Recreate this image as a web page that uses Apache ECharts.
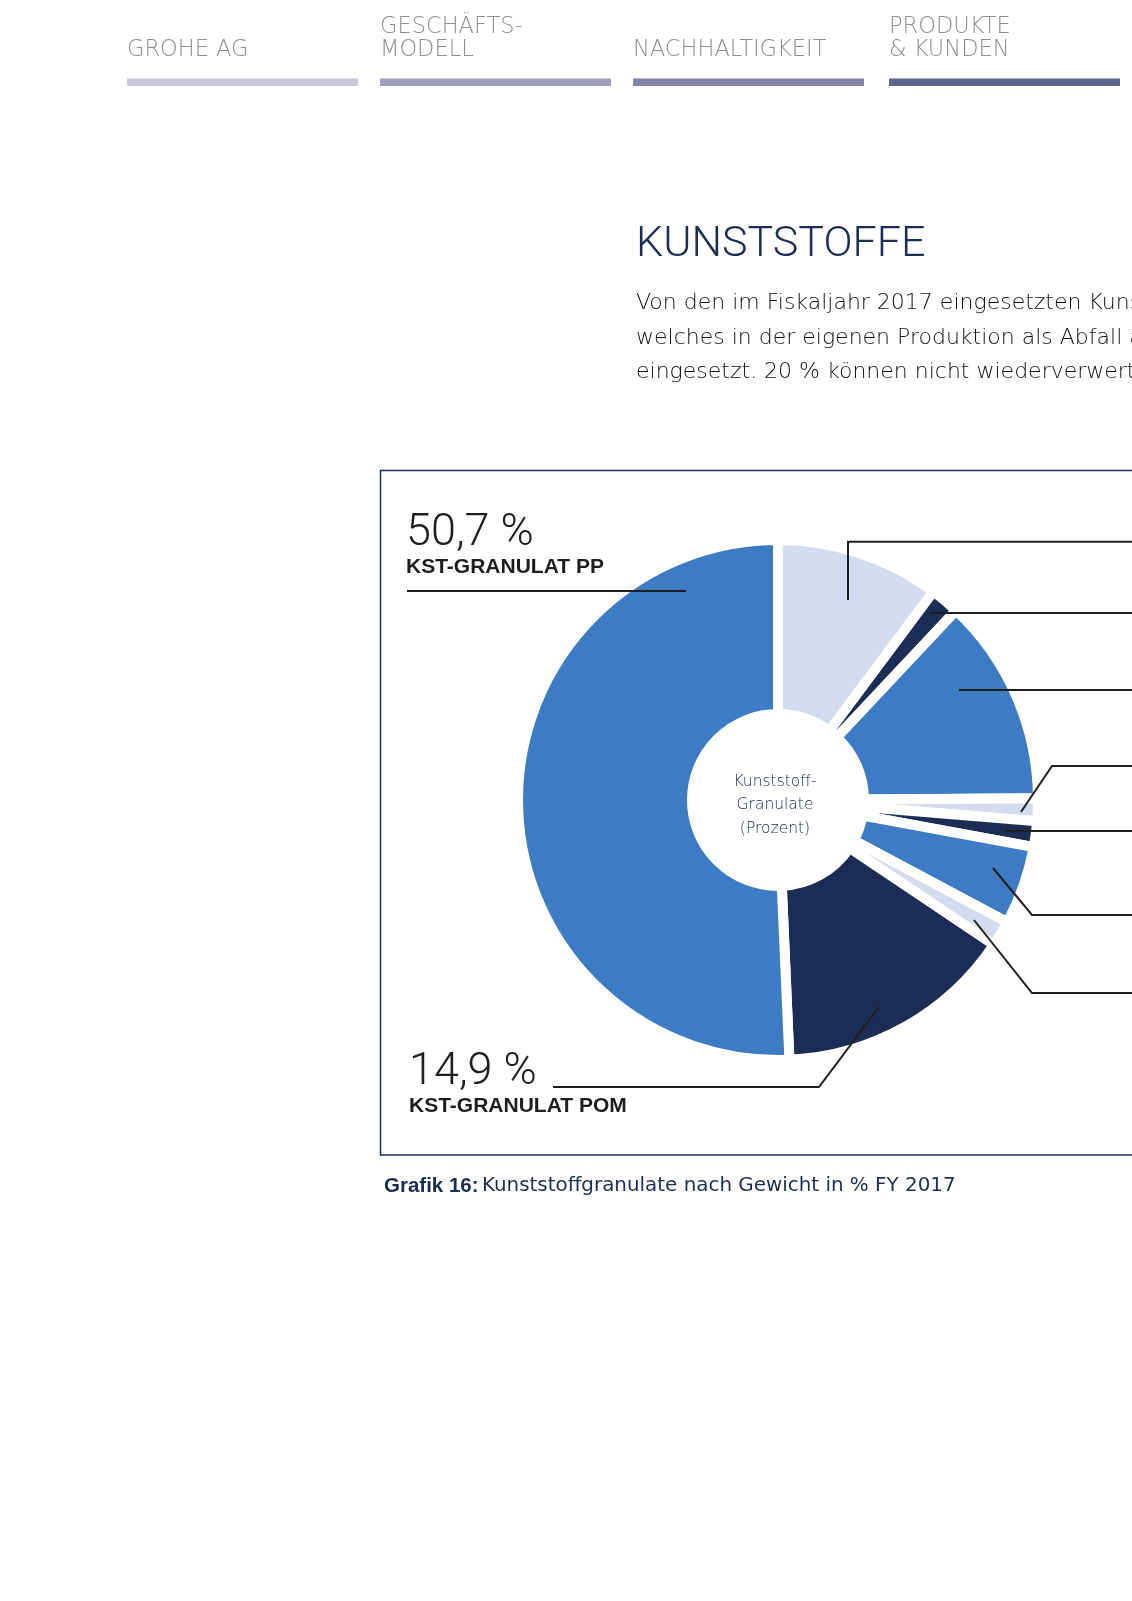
<!DOCTYPE html>
<html><head><meta charset="utf-8">
<script src="https://cdn.jsdelivr.net/npm/echarts@6/dist/echarts.min.js"></script>
<style>html,body{margin:0;padding:0;background:#fff;overflow:hidden}#c{width:1132px;height:1601px}</style>
</head><body><div id="c"></div>
<script>
// ---- data ----
const navItems = ['GROHE AG', 'GESCHÄFTS-\nMODELL', 'NACHHALTIGKEIT', 'PRODUKTE\n& KUNDEN'];
const categories = ['Granulat 1', 'Granulat 2', 'Granulat 3', 'Granulat 4', 'Granulat 5', 'Granulat 6', 'Granulat 7', 'KST-GRANULAT POM', 'KST-GRANULAT PP'];
const values = [10.2, 1.8, 12.9, 1.4, 1.6, 4.9, 1.6, 14.9, 50.7];
const shownLabels = ['KST-GRANULAT POM', 'KST-GRANULAT PP'];
const titleText = 'KUNSTSTOFFE';
const bodyLines = [
  'Von den im Fiskaljahr 2017 eingesetzten Kunststoffgranulaten',
  'welches in der eigenen Produktion als Abfall anfällt',
  'eingesetzt. 20 % können nicht wiederverwertet werden.'
];
const centerLines = ['Kunststoff-', 'Granulate', '(Prozent)'];
const captionBold = 'Grafik 16:';
const captionText = 'Kunststoffgranulate nach Gewicht in % FY 2017';

// ---- styles / layout ----
const NAVY = '#1b2d54';
const BLUE = '#3d7cc4';
const LIGHT = '#d3dcee';
const sliceColors = [LIGHT, NAVY, BLUE, LIGHT, NAVY, BLUE, LIGHT, NAVY, BLUE];
const navX = [127, 380, 633, 889];
const navBarColors = ['#cac9dc', '#9f9fbb', '#8185a6', '#5d6489'];
const FONT = 'Roboto, "Liberation Sans", sans-serif';
const FONT2 = '"DejaVu Sans", "Open Sans", sans-serif';
const FONTB = '"Liberation Sans", Arial, sans-serif';

// leader line routing (layout only)
const leaderLines = [
  [[848, 600], [848, 541.7], [1140, 541.7]],
  [[930, 613], [1000, 613], [1140, 613]],
  [[959, 690], [1040, 690], [1140, 690]],
  [[1021, 812], [1052, 766], [1140, 766]],
  [[1006, 831], [1060, 831], [1140, 831]],
  [[993, 868], [1032, 915], [1140, 915]],
  [[974, 920], [1032, 993], [1140, 993]],
  [[879, 1007], [819, 1087], [553, 1087]],
  [[686, 591], [550, 591], [407, 591]]
];
const labelPos = [
  [1200, 530], [1200, 600], [1200, 680], [1200, 750], [1200, 820],
  [1200, 900], [1200, 980], [409, 1049.5], [406, 510.5]
];

function txt(x, baseline, str, size, opts) {
  opts = opts || {};
  return {
    type: 'text', x: x, y: baseline - 0.34 * size, silent: true,
    style: {
      text: str, fill: opts.fill || '#333', font: (opts.weight || 400) + ' ' + size + 'px ' + (opts.family || FONT),
      align: opts.align || 'left', verticalAlign: 'middle'
    }
  };
}

const graphics = [];
// nav
navItems.forEach((t, i) => {
  const lines = t.split('\n');
  const o = {weight: 300, fill: '#8e8e8e', family: FONT2};
  if (lines.length === 1) {
    graphics.push(txt(navX[i], 58.3, lines[0], 22.5, o));
  } else {
    graphics.push(txt(navX[i], 35, lines[0], 22.5, o));
    graphics.push(txt(navX[i], 58.3, lines[1], 22.5, o));
  }
  graphics.push({type: 'rect', silent: true, shape: {x: navX[i], y: 78.5, width: 231, height: 7.5}, style: {fill: navBarColors[i]}});
});
// title + body
graphics.push(txt(636, 260, titleText, 43, {weight: 300, fill: NAVY}));
bodyLines.forEach((l, i) => graphics.push(txt(636, 311 + i * 34.5, l, 22, {weight: 300, fill: '#111', family: FONT2})));
// frame
graphics.push({type: 'rect', silent: true, shape: {x: 380.5, y: 470.5, width: 900, height: 684.5}, style: {fill: 'none', stroke: NAVY, lineWidth: 1.5}});
// center text
centerLines.forEach((l, i) => graphics.push(txt(775, 787 + i * 23.5, l, 15.5, {weight: 300, fill: '#14244a', align: 'center', family: FONT2})));
// caption
graphics.push({
  type: 'text', x: 384, y: 1193 - 0.34 * 20.5, silent: true,
  style: {
    text: '{b|' + captionBold + '} {r|' + captionText + '}',
    verticalAlign: 'middle', align: 'left',
    rich: {
      b: {font: '700 20.5px ' + FONTB, fill: NAVY},
      r: {font: '400 19.9px ' + FONT2, fill: '#1e2f55'}
    }
  }
});

const fmtPct = v => String(v).replace('.', ',') + ' %';
const pieData = colored => categories.map((c, i) => ({
  name: c, value: values[i],
  itemStyle: {color: colored ? sliceColors[i] : 'rgba(0,0,0,0)'}
}));

const chart = echarts.init(document.getElementById('c'), null, {renderer: 'canvas'});
const pieBase = {
  type: 'pie',
  center: [778, 800],
  radius: [86, 260],
  startAngle: 90,
  clockwise: true,
  avoidLabelOverlap: false,
  silent: true,
  emphasis: {disabled: true}
};
chart.setOption({
  backgroundColor: '#fff',
  animation: false,
  graphic: graphics,
  series: [
    Object.assign({}, pieBase, {
      z: 2,
      itemStyle: {borderColor: '#fff', borderWidth: 10, borderJoin: 'miter'},
      data: pieData(true),
      label: {show: false},
      labelLine: {show: false}
    }),
    Object.assign({}, pieBase, {
      z: 5,
      itemStyle: {borderWidth: 0},
      data: pieData(false),
      label: {
        show: true,
        position: 'outside',
        formatter: p => shownLabels.indexOf(p.name) >= 0 ? '{v|' + fmtPct(p.value) + '}\n{n|' + p.name + '}' : p.name,
        rich: {
          v: {fontFamily: 'Roboto', fontWeight: 300, fontSize: 45, color: '#1e1e1e', lineHeight: 46},
          n: {fontFamily: 'Liberation Sans', fontWeight: 700, fontSize: 21, color: '#1e1e1e', lineHeight: 21}
        },
        color: '#1e1e1e'
      },
      labelLine: {show: true, showAbove: true, lineStyle: {color: '#1e1e1e', width: 2}},
      labelLayout: p => ({
        x: labelPos[p.dataIndex][0],
        y: labelPos[p.dataIndex][1],
        align: 'left',
        verticalAlign: 'top',
        labelLinePoints: leaderLines[p.dataIndex]
      })
    })
  ]
});
</script></body></html>
